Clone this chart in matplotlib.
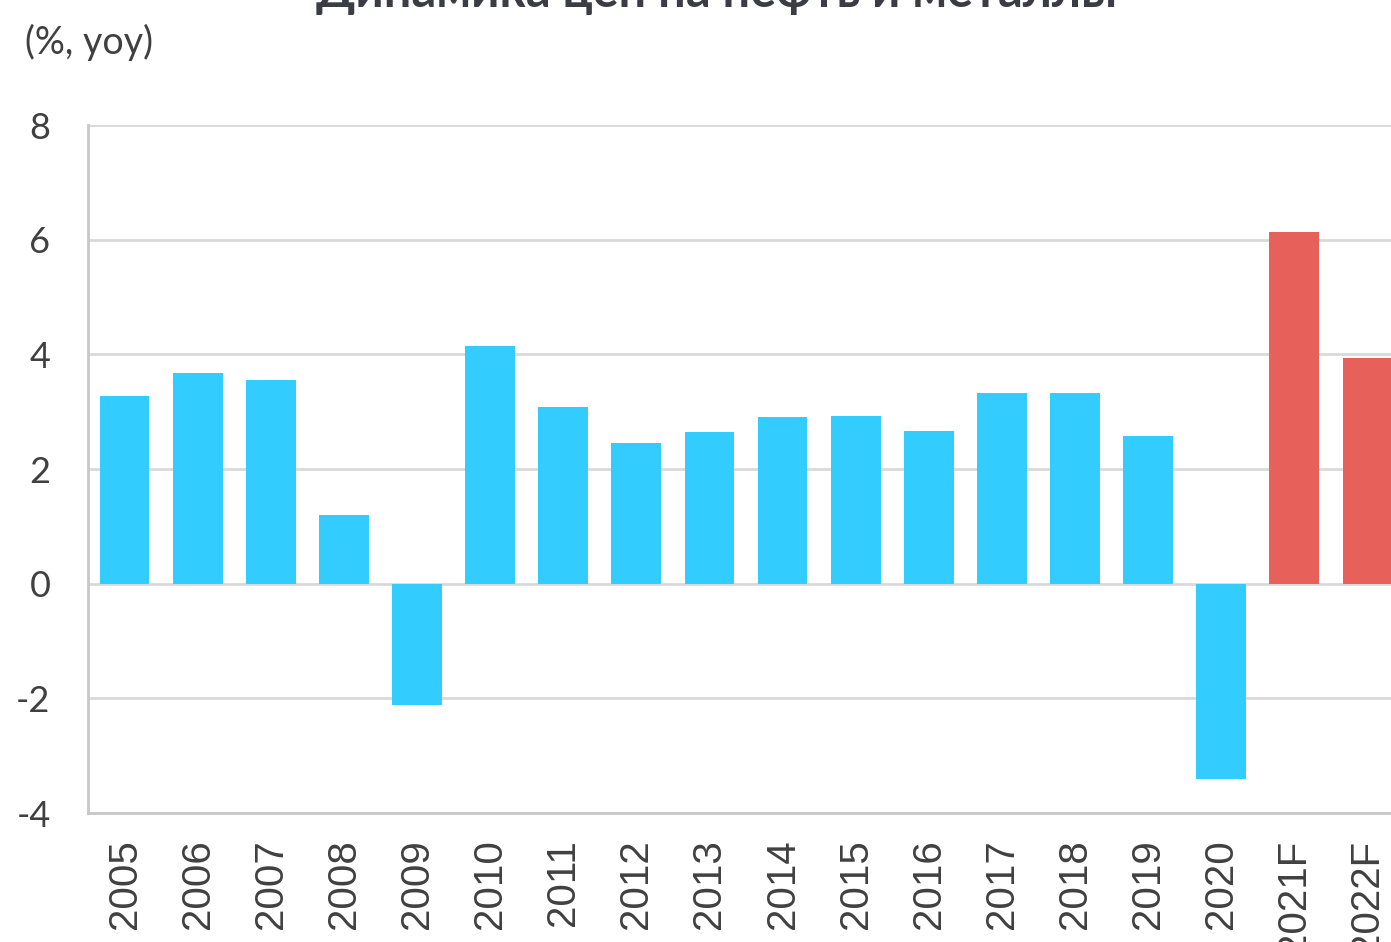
import numpy as np
import matplotlib
matplotlib.use("Agg")
import matplotlib.pyplot as plt

years = ["2005", "2006", "2007", "2008", "2009", "2010", "2011", "2012", "2013",
         "2014", "2015", "2016", "2017", "2018", "2019", "2020", "2021F", "2022F"]
growth = [3.28, 3.68, 3.56, 1.19, -2.11, 4.15, 3.09, 2.46, 2.65,
          2.90, 2.93, 2.67, 3.33, 3.33, 2.58, -3.40, 6.13, 3.94]
forecast = [False] * 16 + [True, True]
yticks = [-4, -2, 0, 2, 4, 6, 8]

blue = "#33ccff"
red = "#e8605a"
txt = "#404040"

fig = plt.figure(figsize=(13.91, 9.42), dpi=100)
ax = fig.add_axes([0.0633, 0.1369, 0.9460, 0.7304])

x = np.arange(len(years))
colors = [red if f else blue for f in forecast]
ax.bar(x, growth, width=0.68, color=colors, zorder=3)

ax.set_xlim(-0.5, len(years) - 0.5)
ax.set_ylim(-4, 8)
ax.set_yticks(yticks)
ax.set_yticklabels([str(t) for t in yticks], fontfamily="Lato", fontsize=26, color=txt)
ax.set_xticks(x)
ax.set_xticklabels(years, rotation=90, fontfamily="Liberation Sans", fontsize=29, color=txt)
ax.tick_params(axis="y", length=0, pad=27)
ax.tick_params(axis="x", length=0, pad=19)

ax.grid(axis="y", color="#d9d9d9", linewidth=2, zorder=0)
for s in ["top", "right"]:
    ax.spines[s].set_visible(False)
ax.spines["left"].set_color("#c8c8c8")
ax.spines["left"].set_linewidth(2)
ax.spines["bottom"].set_color("#c8c8c8")
ax.spines["bottom"].set_linewidth(2)

fig.text(0.018, 0.955, "(%, yoy)", fontfamily="Lato", fontsize=27, color=txt, va="center")
fig.text(0.515, 0.993, "Динамика цен на нефть и металлы", fontfamily="Lato",
         fontsize=35, fontweight="bold", color="#3a3e44", ha="center", va="baseline")

fig.savefig("out.png", dpi=100)
